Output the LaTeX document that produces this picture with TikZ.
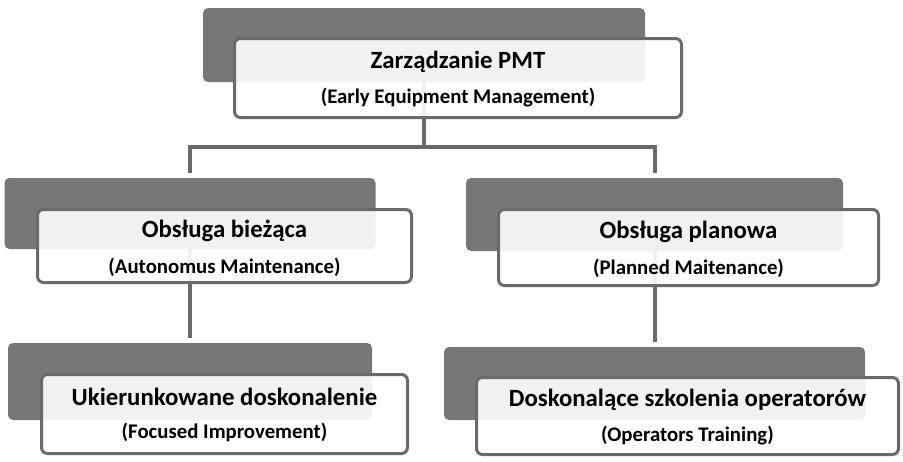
\documentclass[tikz,border=0pt]{standalone}
\usepackage{fontspec}
\setmainfont{Carlito}
\usetikzlibrary{backgrounds}
\definecolor{darkbox}{HTML}{777777}
\definecolor{rim}{HTML}{6A6A6A}
\tikzset{
  backbox/.style={rectangle, rounded corners=5pt, fill=darkbox, inner sep=0pt},
  frontbox/.style={rectangle, rounded corners=6pt, draw=rim, line width=3pt, fill=white, fill opacity=0.9, inner sep=0pt},
  titletext/.style={font=\bfseries\fontsize{24.8}{28}\selectfont, inner sep=0pt, anchor=center, text=black},
  subtext/.style={font=\bfseries\fontsize{20.8}{24}\selectfont, inner sep=0pt, anchor=center, text=black},
  conn/.style={draw=rim, line width=4pt}
}
\begin{document}
\begin{tikzpicture}[x=1pt,y=-1pt]
\useasboundingbox (0,0) rectangle (903,461);
% top
\node[backbox, minimum width=442pt, minimum height=74pt] (tdark) at (424,45) {};
\node[frontbox, minimum width=447pt, minimum height=79pt] (twhite) at (458,78) {};
\node[titletext] (t1) at (458,62) {Zarządzanie PMT};
\node[subtext] (t2) at (458,98) {(Early Equipment Management)};
% left middle
\node[backbox, minimum width=371pt, minimum height=71pt] (ldark) at (190,213.5) {};
\node[frontbox, minimum width=374pt, minimum height=73pt] (lwhite) at (224.5,246) {};
\node[titletext] (l1) at (224.5,231) {Obsługa bieżąca};
\node[subtext] (l2) at (224.5,267) {(Autonomus Maintenance)};
% right middle
\node[backbox, minimum width=377pt, minimum height=73pt] (rdark) at (654.5,214.5) {};
\node[frontbox, minimum width=380pt, minimum height=76pt] (rwhite) at (688.5,247.5) {};
\node[titletext] (r1) at (688.5,232) {Obsługa planowa};
\node[subtext] (r2) at (688.5,268) {(Planned Maitenance)};
% bottom left
\node[backbox, minimum width=364pt, minimum height=77pt] (bldark) at (190,381.5) {};
\node[frontbox, minimum width=366pt, minimum height=79pt] (blwhite) at (224.5,414) {};
\node[titletext] (bl1) at (224.5,397) {Ukierunkowane doskonalenie};
\node[subtext] (bl2) at (224.5,432) {(Focused Improvement)};
% bottom right
\node[backbox, minimum width=421pt, minimum height=73pt] (brdark) at (654.5,383.5) {};
\node[frontbox, minimum width=422pt, minimum height=77pt] (brwhite) at (687.5,416) {};
\node[titletext] (br1) at (687.5,400) {Doskonalące szkolenia operatorów};
\node[subtext] (br2) at (687.5,436) {(Operators Training)};
% connectors
\coordinate (bus) at (0,147);
\begin{scope}[on background layer]
\draw[conn, shorten >=5pt] (tdark.center) -- (tdark.center |- bus) -| (ldark.north);
\draw[conn, shorten >=5pt] (tdark.center |- bus) -| (rdark.north);
\draw[conn, shorten >=5pt] (ldark.center) -- (ldark.center |- bldark.north);
\draw[conn, shorten >=5pt] (rdark.center) -- (rdark.center |- brdark.north);
\end{scope}
\end{tikzpicture}
\end{document}
